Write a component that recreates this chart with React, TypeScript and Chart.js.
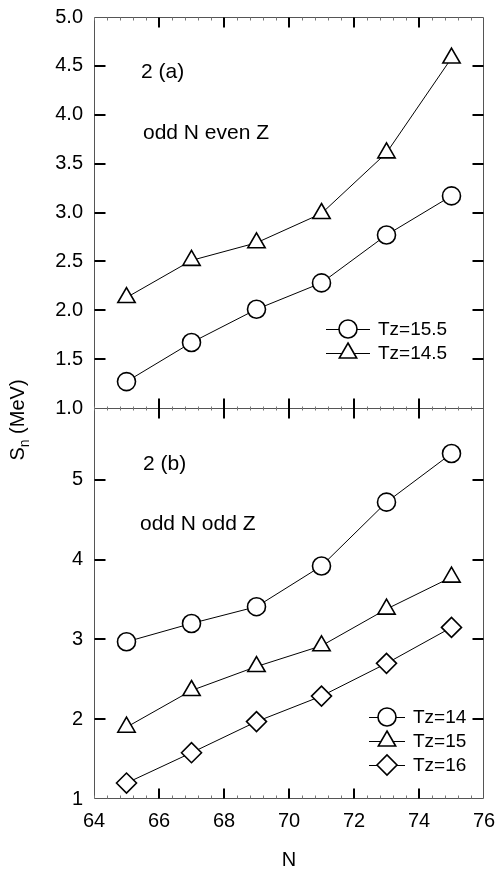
import { useEffect, useRef } from 'react';
import { Chart, registerables } from 'chart.js';
import { drawPoint } from 'chart.js/helpers';

Chart.register(...registerables);

// ---- data ----
const nValues = [65, 67, 69, 71, 73, 75];
const tz155 = [1.27, 1.67, 2.01, 2.28, 2.77, 3.17];
const tz145 = [2.13, 2.51, 2.69, 2.99, 3.61, 4.58];
const tz14 = [2.97, 3.2, 3.41, 3.92, 4.72, 5.33];
const tz15 = [1.9, 2.36, 2.66, 2.92, 3.38, 3.78];
const tz16 = [1.2, 1.58, 1.97, 2.29, 2.7, 3.15];

const xTicks = [64, 66, 68, 70, 72, 74, 76];
const topYTicks = [1.0, 1.5, 2.0, 2.5, 3.0, 3.5, 4.0, 4.5, 5.0];
const botYTicks = [1, 2, 3, 4, 5];
const topLegendLabels = ['Tz=15.5', 'Tz=14.5'];
const botLegendLabels = ['Tz=14', 'Tz=15', 'Tz=16'];
const panelTexts = [
  ['2 (a)', 'odd N even Z'],
  ['2 (b)', 'odd N odd Z'],
];

const FONT = '"Liberation Sans", Arial, sans-serif';

const mk = (label: string, vals: number[], axis: string, style: string, r: number) => ({
  label,
  data: nValues.map((n, i) => ({ x: n, y: vals[i] })),
  yAxisID: axis,
  borderColor: '#000',
  borderWidth: 1,
  pointStyle: style,
  pointRadius: r,
  pointBackgroundColor: '#fff',
  pointBorderColor: '#000',
  pointBorderWidth: 1.6,
  tension: 0,
  fill: false,
});

const zeroPad = (s: any) => {
  s.paddingTop = 0;
  s.paddingBottom = 0;
  s.paddingLeft = 0;
  s.paddingRight = 0;
};

const decorPlugin = {
  id: 'decor',
  afterDraw(chart: any) {
    const ctx = chart.ctx as CanvasRenderingContext2D;
    const { left, right, top, bottom } = chart.chartArea;
    const xs = chart.scales.x;
    const yT = chart.scales.yTop;
    const yB = chart.scales.yBot;
    const mid = yT.getPixelForValue(topYTicks[0]);
    const L = Math.round(left) + 0.5;
    const R = Math.round(right) - 0.5;
    const T = Math.round(top) + 0.5;
    const B = Math.round(bottom) - 0.5;
    const M = Math.round(mid) + 0.5;
    ctx.save();
    // frame
    ctx.strokeStyle = '#555';
    ctx.lineWidth = 1;
    ctx.beginPath();
    ctx.rect(L, T, R - L, B - T);
    ctx.moveTo(L, M);
    ctx.lineTo(R, M);
    ctx.stroke();

    // minor x ticks
    ctx.strokeStyle = '#777';
    ctx.beginPath();
    for (let v = xTicks[0]; v < xTicks[xTicks.length - 1]; v += 0.4) {
      const px = Math.round(xs.getPixelForValue(v)) + 0.5;
      ctx.moveTo(px, T); ctx.lineTo(px, T + 3);
      ctx.moveTo(px, M - 2); ctx.lineTo(px, M + 2);
      ctx.moveTo(px, B); ctx.lineTo(px, B - 3);
    }
    ctx.stroke();

    // major ticks
    ctx.strokeStyle = '#000';
    ctx.lineWidth = 2;
    ctx.beginPath();
    const TL = 10;
    xTicks.slice(1, -1).forEach((v) => {
      const px = Math.round(xs.getPixelForValue(v));
      ctx.moveTo(px, T); ctx.lineTo(px, T + TL);
      ctx.moveTo(px, M - TL); ctx.lineTo(px, M + TL);
      ctx.moveTo(px, B); ctx.lineTo(px, B - TL);
    });
    topYTicks.slice(1, -1).forEach((v) => {
      const py = Math.round(yT.getPixelForValue(v));
      ctx.moveTo(L, py); ctx.lineTo(L + TL + 1, py);
      ctx.moveTo(R, py); ctx.lineTo(R - TL - 1, py);
    });
    botYTicks.slice(1).forEach((v) => {
      const py = Math.round(yB.getPixelForValue(v));
      ctx.moveTo(L, py); ctx.lineTo(L + TL + 1, py);
      ctx.moveTo(R, py); ctx.lineTo(R - TL - 1, py);
    });
    ctx.stroke();

    // panel annotations
    ctx.fillStyle = '#000';
    ctx.textBaseline = 'alphabetic';
    ctx.textAlign = 'left';
    ctx.font = `21px ${FONT}`;
    ctx.fillText(panelTexts[0][0], left + 47, top + 61);
    ctx.fillText(panelTexts[0][1], left + 49, top + 122);
    ctx.fillText(panelTexts[1][0], left + 49, mid + 62);
    ctx.fillText(panelTexts[1][1], left + 46, mid + 122);

    // legends
    const drawLegend = (idxs: number[], labels: string[], x0: number, x1: number, tx: number, y0: number) => {
      ctx.font = `19px ${FONT}`;
      ctx.textBaseline = 'middle';
      idxs.forEach((di, k) => {
        const ds = chart.data.datasets[di];
        const y = y0 + k * 24;
        ctx.strokeStyle = '#000';
        ctx.lineWidth = 1;
        ctx.beginPath();
        ctx.moveTo(x0, y + 0.5);
        ctx.lineTo(x1, y + 0.5);
        ctx.stroke();
        ctx.fillStyle = '#fff';
        ctx.strokeStyle = '#000';
        ctx.lineWidth = 1.6;
        drawPoint(ctx, { pointStyle: ds.pointStyle, radius: ds.pointRadius, rotation: 0, borderWidth: 1.6 } as any, (x0 + x1) / 2, y);
        ctx.fillStyle = '#000';
        ctx.fillText(labels[k], tx, y + 1);
      });
    };
    drawLegend([0, 1], topLegendLabels, 326, 370, 378, 329);
    drawLegend([2, 3, 4], botLegendLabels, 369, 405, 413, 717);

    // axis titles
    ctx.fillStyle = '#000';
    ctx.textAlign = 'center';
    ctx.textBaseline = 'middle';
    ctx.font = `20px ${FONT}`;
    ctx.fillText('N', (left + right) / 2, 860);

    ctx.translate(17, (top + bottom) / 2 + 12);
    ctx.rotate(-Math.PI / 2);
    ctx.textAlign = 'left';
    ctx.textBaseline = 'alphabetic';
    const big = `20px ${FONT}`;
    const small = `14px ${FONT}`;
    ctx.font = big;
    const wS = ctx.measureText('S').width;
    const wRest = ctx.measureText(' (MeV)').width;
    ctx.font = small;
    const wn = ctx.measureText('n').width;
    const total = wS + wn + wRest;
    let cx = -total / 2;
    ctx.font = big;
    ctx.fillText('S', cx, 7);
    cx += wS;
    ctx.font = small;
    ctx.fillText('n', cx, 12);
    cx += wn;
    ctx.font = big;
    ctx.fillText(' (MeV)', cx, 7);
    ctx.restore();
  },
};

export default function App() {
  const ref = useRef<HTMLCanvasElement | null>(null);
  useEffect(() => {
    if (!ref.current) return;
    Chart.defaults.font.family = FONT;
    Chart.defaults.color = '#000';
    const chart = new Chart(ref.current, {
      type: 'line',
      data: {
        datasets: [
          mk('Tz=15.5', tz155, 'yTop', 'circle', 9),
          mk('Tz=14.5', tz145, 'yTop', 'triangle', 10),
          mk('Tz=14', tz14, 'yBot', 'circle', 9),
          mk('Tz=15', tz15, 'yBot', 'triangle', 10),
          mk('Tz=16', tz16, 'yBot', 'rectRot', 10),
        ] as any,
      },
      options: {
        responsive: false,
        animation: false,
        layout: { padding: { top: 17, right: 13, left: 0, bottom: 0 } },
        plugins: { legend: { display: false }, tooltip: { enabled: false } },
        scales: {
          x: {
            type: 'linear',
            min: xTicks[0],
            max: xTicks[xTicks.length - 1],
            grid: { display: false, drawTicks: false },
            border: { display: false },
            afterBuildTicks: (s: any) => { s.ticks = xTicks.map((v) => ({ value: v })); },
            afterFit: (s: any) => { s.height = 72; zeroPad(s); },
            ticks: { font: { size: 20 }, padding: 10, autoSkip: false, maxRotation: 0, callback: (v: any) => String(v) },
          },
          yBot: {
            type: 'linear',
            position: 'left',
            stack: 'panels',
            stackWeight: 1,
            min: 1,
            max: 5.9,
            grid: { display: false, drawTicks: false },
            border: { display: false },
            afterBuildTicks: (s: any) => { s.ticks = botYTicks.map((v) => ({ value: v })); },
            afterFit: (s: any) => { s.width = 94; zeroPad(s); },
            ticks: { font: { size: 20 }, padding: 11, autoSkip: false, callback: (v: any) => String(v) },
          },
          yTop: {
            type: 'linear',
            position: 'left',
            stack: 'panels',
            stackWeight: 1,
            min: 1,
            max: 5,
            grid: { display: false, drawTicks: false },
            border: { display: false },
            afterBuildTicks: (s: any) => { s.ticks = topYTicks.map((v) => ({ value: v })); },
            afterFit: (s: any) => { s.width = 94; zeroPad(s); },
            ticks: { font: { size: 20 }, padding: 11, autoSkip: false, callback: (v: any) => Number(v).toFixed(1) },
          },
        } as any,
      },
      plugins: [decorPlugin],
    });
    return () => chart.destroy();
  }, []);
  return (
    <div style={{ position: 'absolute', left: 0, top: 0, width: 497, height: 871 }}>
      <canvas ref={ref} width={497} height={871} style={{ display: 'block' }} />
    </div>
  );
}
